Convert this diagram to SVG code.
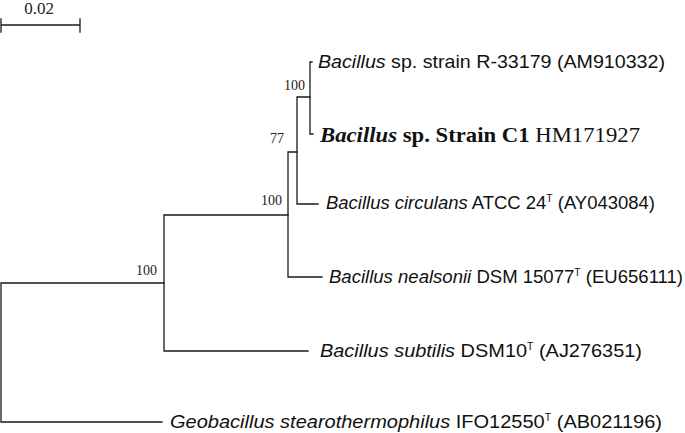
<svg xmlns="http://www.w3.org/2000/svg" width="685" height="433" viewBox="0 0 685 433">
<style>
.br{fill:none;stroke:#1a1a1a;stroke-width:1.3;stroke-linecap:square}
.tx{font-family:"Liberation Sans",Arial,sans-serif;font-size:19px;fill:#111}
.tx18{font-size:18px}
.it{font-style:italic}
.sup{font-size:10px;baseline-shift:7px}
.bs{font-family:"Liberation Serif","Times New Roman",serif;font-size:14px;fill:#222}
.c1{font-family:"Liberation Serif","Times New Roman",serif;font-size:22px;fill:#111}
</style>
<rect width="685" height="433" fill="#fff"/>
<g id="scale">
<path class="br" d="M1,25 H80 M1,19 V32 M80,19 V32"/>
<text class="bs" x="39" y="14" text-anchor="middle" style="font-size:17px">0.02</text>
</g>
<g id="connectors">
<path class="br" d="M1,283 V422 M1,283 H164 M1,422 H162"/>
<path class="br" d="M164,215 V351 M164,215 H288 M164,351 H308"/>
<path class="br" d="M288,152 V277 M288,152 H297 M288,277 H322"/>
<path class="br" d="M297,97 V204 M297,97 H310 M297,204 H318"/>
<path class="br" d="M310,62 V134 M310,62 H312 M310,134 H313"/>
</g>
<g id="bootstrap">
<text class="bs" x="305" y="90" text-anchor="end">100</text>
<text class="bs" x="284" y="143" text-anchor="end">77</text>
<text class="bs" x="282" y="205" text-anchor="end">100</text>
<text class="bs" x="157" y="275" text-anchor="end">100</text>
</g>
<g id="taxon-r33179">
<text class="tx" x="318" y="68" textLength="347" lengthAdjust="spacingAndGlyphs"><tspan class="it">Bacillus</tspan> sp. strain R-33179 (AM910332)</text>
</g>
<g id="taxon-c1">
<text class="c1" x="320" y="142" textLength="320" lengthAdjust="spacingAndGlyphs"><tspan font-weight="bold" font-style="italic">Bacillus</tspan><tspan font-weight="bold"> sp. Strain C1</tspan> HM171927</text>
</g>
<g id="taxon-circulans">
<text class="tx tx18" x="326" y="209" textLength="329" lengthAdjust="spacingAndGlyphs"><tspan class="it">Bacillus circulans</tspan> ATCC 24<tspan class="sup">T</tspan> (AY043084)</text>
</g>
<g id="taxon-nealsonii">
<text class="tx tx18" x="329" y="283" textLength="354" lengthAdjust="spacingAndGlyphs"><tspan class="it">Bacillus nealsonii</tspan> DSM 15077<tspan class="sup">T</tspan> (EU656111)</text>
</g>
<g id="taxon-subtilis">
<text class="tx" x="320" y="357" textLength="322" lengthAdjust="spacingAndGlyphs"><tspan class="it">Bacillus subtilis</tspan> DSM10<tspan class="sup">T</tspan> (AJ276351)</text>
</g>
<g id="taxon-geobacillus">
<text class="tx" x="170" y="428" textLength="492" lengthAdjust="spacingAndGlyphs"><tspan class="it">Geobacillus stearothermophilus</tspan> IFO12550<tspan class="sup">T</tspan> (AB021196)</text>
</g>
</svg>
